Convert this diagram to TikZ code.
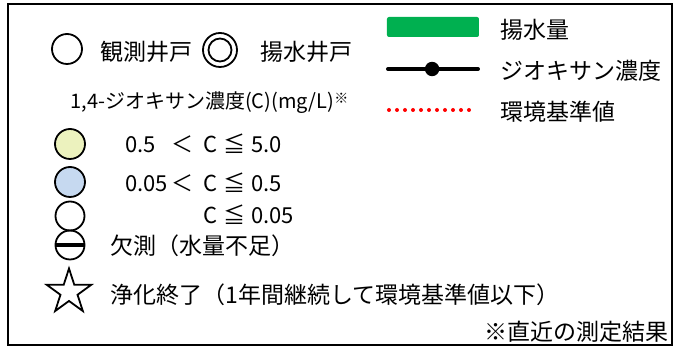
\documentclass[tikz,border=0pt]{standalone}
\usepackage{fontspec}
\setmainfont{Noto Sans CJK JP}
\usetikzlibrary{shapes.geometric,calc}
\definecolor{pumpgreen}{RGB}{0,176,80}
\definecolor{concyellow}{RGB}{236,242,190}
\definecolor{concblue}{RGB}{198,217,240}
\tikzset{
	well/.style={draw, circle, line width=0.9pt, minimum size=14.5pt, inner sep=0pt},
	lbl/.style={anchor=west, inner sep=0pt, font=\fontsize{11.5}{13}\selectfont},
}
% concentration range: lower, sign, upper
\newcommand{\concrange}[3]{\makebox[23pt][l]{#1}\makebox[16pt][l]{#2}\makebox[10pt][l]{C}\makebox[14pt][l]{≦}#3}

\begin{document}
\begin{tikzpicture}[x=0.5pt,y=-0.5pt]
	\useasboundingbox (0,0) rectangle (677,352);
	%frame
	\draw[line width=1pt] (8,4) rectangle (672,345);
	
	%wells
	\node[well, minimum size=15pt] (obs) at (67,49) {};
	\node[lbl] (obslbl) at (100,52) {観測井戸};
	\node[well, minimum size=17pt] (pump) at (220,50) {};
	\node[well, minimum size=11.5pt] (pumpin) at (220,50) {};
	\node[lbl] (pumplbl) at (260,52) {揚水井戸};
	
	%concentration classes
	\node[lbl, font=\fontsize{10}{12}\selectfont] (head) at (70,103) {1,4-ジオキサン濃度(C)(mg/L)\raisebox{0.5ex}{\fontsize{7}{8}\selectfont ※}};
	\node[well, minimum size=15pt, fill=concyellow] (high) at (70,144) {};
	\node[lbl, font=\fontsize{11}{13}\selectfont] (highlbl) at (125,144) {\concrange{0.5}{＜}{5.0}};
	\node[well, minimum size=15pt, fill=concblue] (mid) at (70,182) {};
	\node[lbl, font=\fontsize{11}{13}\selectfont] (midlbl) at (125,183) {\concrange{0.05}{＜}{0.5}};
	\node[well] (low) at (70,216) {};
	\node[lbl, font=\fontsize{11}{13}\selectfont] (lowlbl) at (125,215) {\concrange{}{}{0.05}};
	\node[well] (miss) at (70,245) {};
	\draw[line width=1.6pt] (miss.west) -- (miss.east);
	\node[lbl] (misslbl) at (110,246) {欠測（水量不足）};
	
	%finished
	\node[draw, star, star points=5, star point ratio=2.618, line width=0.9pt, minimum size=23.5pt, inner sep=0pt] (done) at (69,292) {};
	\node[lbl] (donelbl) at (110,295) {浄化終了（1年間継続して環境基準値以下）};
	
	%note
	\node[lbl, anchor=east] (note) at (669,332) {※直近の測定結果};
	
	%graph legend
	\fill[pumpgreen, rounded corners=1pt] (387,17) rectangle (479,37);
	\node[lbl] (qlbl) at (500,30) {揚水量};
	\coordinate (cl) at (388,69);
	\coordinate (cr) at (478,69);
	\draw[line width=2pt, line cap=round] (cl) -- (cr);
	\fill ($(cl)!0.49!(cr)$) circle (3.6pt);
	\node[lbl] (clbl) at (500,71) {ジオキサン濃度};
	\draw[red, line width=2pt, line cap=round, dash pattern=on 0pt off 4pt] (389,110) -- (471,110);
	\node[lbl] (stdlbl) at (500,112) {環境基準値};
\end{tikzpicture}
\end{document}
